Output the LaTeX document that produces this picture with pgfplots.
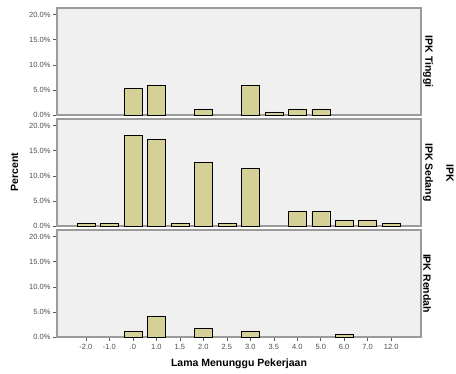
\documentclass[border=0pt]{standalone}
\usepackage{fontspec}
\setmainfont{Liberation Sans}
\usepackage{pgfplots}
\pgfplotsset{compat=1.18}
\definecolor{barfill}{RGB}{213,208,150}
\definecolor{baredge}{RGB}{95,95,85}
\definecolor{panelbg}{RGB}{240,240,240}
\definecolor{framecol}{RGB}{155,155,155}
\tikzset{
  plabel/.style={rotate=-90, anchor=south, inner sep=2pt, font=\bfseries\fontsize{10.5}{12}\selectfont},
}
\pgfplotsset{
  panel/.style={
    scale only axis, width=364pt, height=107pt,
    xmin=-1.23, xmax=14.27, ymin=0, ymax=21.3,
    ytick={0,5,10,15,20},
    yticklabels={0.0\%,5.0\%,10.0\%,15.0\%,20.0\%},
    axis background/.style={fill=panelbg},
    axis line style={framecol, line width=1.2pt},
    tick style={black!65, line width=0.5pt},
    tick align=outside, major tick length=4pt,
    ytick pos=left, xtick pos=bottom,
    ybar, bar width=18pt, bar shift=0pt,
    tick label style={font=\fontsize{7.5}{8}\selectfont, text=black!70},
    yticklabel style={xshift=1pt},
    cycle list={{fill=barfill, draw=baredge, line width=0.8pt}},
    clip=false,
  },
}
\pgfplotstableread{
x y
2 5.3
3 5.9
5 1.2
7 5.9
8 0.6
9 1.2
10 1.2
}\tinggi
\pgfplotstableread{
x y
0 0.6
1 0.6
2 18.0
3 17.2
4 0.6
5 12.7
6 0.6
7 11.5
9 2.9
10 2.9
11 1.2
12 1.2
13 0.6
}\sedang
\pgfplotstableread{
x y
2 1.2
3 4.2
5 1.7
7 1.2
11 0.6
}\rendah
\begin{document}
\begin{tikzpicture}
\useasboundingbox (0,0) rectangle (456pt,-374pt);
\begin{axis}[panel, at={(57pt,-8pt)}, anchor=north west, xtick=\empty]
\addplot table[x=x,y=y]{\tinggi};
\node[plabel] at (rel axis cs:1,0.5) {IPK Tinggi};
\end{axis}
\begin{axis}[panel, at={(57pt,-119pt)}, anchor=north west, xtick=\empty]
\addplot table[x=x,y=y]{\sedang};
\node[plabel] at (rel axis cs:1,0.5) {IPK Sedang};
\end{axis}
\begin{axis}[panel, at={(57pt,-230pt)}, anchor=north west,
  xtick={0,...,13},
  xticklabels={-2.0,-1.0,.0,1.0,1.5,2.0,2.5,3.0,3.5,4.0,5.0,6.0,7.0,12.0}]
\addplot table[x=x,y=y]{\rendah};
\node[plabel] at (rel axis cs:1,0.5) {IPK Rendah};
\end{axis}
\node[rotate=-90, inner sep=0pt, font=\bfseries\fontsize{10.5}{12}\selectfont] at (450pt,-173pt) {IPK};
\node[rotate=90, inner sep=0pt, font=\bfseries\fontsize{10.5}{12}\selectfont] at (14.5pt,-172pt) {Percent};
\node[inner sep=0pt, font=\bfseries\fontsize{10.5}{12}\selectfont] at (239pt,-364pt) {Lama Menunggu Pekerjaan};
\end{tikzpicture}
\end{document}
